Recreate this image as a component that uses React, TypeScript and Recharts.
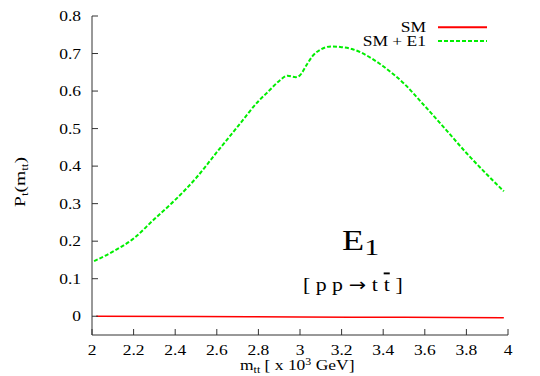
import React from 'react';
import { LineChart, Line, XAxis, YAxis, Label, Legend, Customized } from 'recharts';

const smMass = [2.02, 2.5, 3.0, 3.5, 3.98];
const smValues = [0.0, -0.001, -0.002, -0.003, -0.004];

const e1Mass = [2.01, 2.1, 2.2, 2.3, 2.4, 2.5, 2.6, 2.7, 2.8, 2.85, 2.9, 2.94, 2.98, 3.0, 3.03, 3.06, 3.1, 3.15, 3.2, 3.25, 3.3, 3.35, 3.4, 3.5, 3.6, 3.7, 3.8, 3.9, 3.98];
const e1Values = [0.147, 0.172, 0.207, 0.259, 0.31, 0.368, 0.437, 0.505, 0.573, 0.6, 0.627, 0.641, 0.637, 0.642, 0.668, 0.693, 0.711, 0.719, 0.717, 0.712, 0.701, 0.685, 0.666, 0.62, 0.56, 0.498, 0.435, 0.377, 0.333];

const xTicks = [2, 2.2, 2.4, 2.6, 2.8, 3, 3.2, 3.4, 3.6, 3.8, 4];
const yTicks = [0, 0.1, 0.2, 0.3, 0.4, 0.5, 0.6, 0.7, 0.8];

const smData = smMass.map((m, i) => ({ m, v: smValues[i] }));
const e1Data = e1Mass.map((m, i) => ({ m, v: e1Values[i] }));

const FONT = 'Liberation Serif, Times New Roman, serif';
const AXIS_COLOR = '#333';
const SX = 1.25;
const RED = '#ff0000';
const GREEN = '#00ee00';
const NB = '\u00A0';

const legendItems = [
  { name: 'SM', color: RED, dash: undefined as string | undefined },
  { name: 'SM + E1', color: GREEN, dash: '4 2' },
];

function XTick(props: any) {
  const { x, y, payload } = props;
  return (
    <g transform={`translate(${x},${y}) scale(${SX},1)`}>
      <text x={0} y={0} dy="0.71em" textAnchor="middle" fontFamily={FONT} fontSize={14} fill="#000">
        {String(payload.value)}
      </text>
    </g>
  );
}

function YTick(props: any) {
  const { x, y, payload } = props;
  return (
    <g transform={`translate(${x},${y}) scale(${SX},1)`}>
      <text x={0} y={0} dy="0.355em" textAnchor="end" fontFamily={FONT} fontSize={14} fill="#000">
        {String(payload.value)}
      </text>
    </g>
  );
}

function LegendContent() {
  return (
    <svg width={170} height={32} style={{ display: 'block', overflow: 'visible' }}>
      {legendItems.map((it, i) => (
        <g key={it.name}>
          <g transform={`translate(96,${11.7 + i * 14.2}) scale(${SX},1)`}>
            <text x={0} y={0} textAnchor="end" fontFamily={FONT} fontSize={14} fill="#000">
              {it.name}
            </text>
          </g>
          <line x1={108} x2={157} y1={7.3 + i * 13.8} y2={7.3 + i * 13.8} stroke={it.color} strokeWidth={2} strokeDasharray={it.dash} />
        </g>
      ))}
    </svg>
  );
}

function Annotations() {
  return (
    <g fontFamily={FONT} fill="#000">
      <g transform={`translate(342,250) scale(${SX},1)`}>
        <text x={0} y={0} fontSize={29}>
          E
          <tspan fontSize={24} dy={5}>1</tspan>
        </text>
      </g>
      <g transform={`translate(303,291) scale(1.15,1)`}>
        <text x={0} y={0} fontSize={19}>
          <tspan>{`[${NB}p${NB}p`}</tspan>
          <tspan dx={5} fontFamily="DejaVu Sans" fontSize={18}>{'\u2192'}</tspan>
          <tspan dx={5}>t</tspan>
          <tspan dx={5} style={{ textDecoration: 'overline' }}>t</tspan>
          <tspan dx={5}>]</tspan>
        </text>
      </g>
    </g>
  );
}

export default function App() {
  return (
    <div style={{ position: 'absolute', left: 0, top: 0, background: '#fff' }}>
      <LineChart width={540} height={376} margin={{ top: 16, right: 32, bottom: 0, left: 0 }}>
        <XAxis
          dataKey="m"
          type="number"
          domain={[2, 4]}
          ticks={xTicks}
          allowDuplicatedCategory={false}
          height={41}
          stroke={AXIS_COLOR}
          tickSize={-6}
          tickMargin={16}
          tick={<XTick />}
        >
          <Label
            content={() => (
              <g transform={`translate(240,370) scale(${SX},1)`}>
                <text x={0} y={0} fontFamily={FONT} fontSize={14} fill="#000">
                  m<tspan fontSize={9.5} dy={2.5}>tt</tspan>
                  <tspan dy={-2.5}>{`${NB}[${NB}x${NB}10`}</tspan>
                  <tspan fontSize={9.5} dy={-5}>3</tspan>
                  <tspan dy={5}>{`${NB}GeV]`}</tspan>
                </text>
              </g>
            )}
          />
        </XAxis>
        <XAxis
          xAxisId="top"
          orientation="top"
          type="number"
          domain={[2, 4]}
          ticks={xTicks}
          height={0}
          stroke={AXIS_COLOR}
          tickSize={-6}
          tickFormatter={() => ''}
        />
        <YAxis
          type="number"
          domain={[-0.05, 0.8]}
          ticks={yTicks}
          width={92}
          stroke={AXIS_COLOR}
          tickSize={-6}
          tickMargin={17}
          tick={<YTick />}
        >
          <Label
            content={() => (
              <g transform="translate(25,182) rotate(-90) scale(1.3,1)">
                <text x={0} y={0} textAnchor="middle" fontFamily={FONT} fontSize={15} fill="#000">
                  P<tspan fontSize={10} dy={3}>t</tspan>
                  <tspan dy={-3}>(m</tspan>
                  <tspan fontSize={10} dy={3}>tt</tspan>
                  <tspan dy={-3}>)</tspan>
                </text>
              </g>
            )}
          />
        </YAxis>
        <YAxis
          yAxisId="right"
          orientation="right"
          type="number"
          domain={[-0.05, 0.8]}
          ticks={yTicks}
          width={0}
          stroke={AXIS_COLOR}
          tickSize={-6}
          tickFormatter={() => ''}
        />
        <Legend
          layout="horizontal"
          verticalAlign="middle"
          align="center"
          content={<LegendContent />}
          wrapperStyle={{ position: 'absolute', top: 20, left: 330, width: 170, height: 32 }}
        />
        <Line
          data={smData}
          dataKey="v"
          name="SM"
          type="monotone"
          stroke={RED}
          strokeWidth={1.5}
          dot={false}
          isAnimationActive={false}
        />
        <Line
          data={e1Data}
          dataKey="v"
          name="SM + E1"
          type="monotone"
          stroke={GREEN}
          strokeWidth={2}
          strokeDasharray="4 2"
          dot={false}
          isAnimationActive={false}
        />
        <Customized component={Annotations} />
      </LineChart>
    </div>
  );
}
